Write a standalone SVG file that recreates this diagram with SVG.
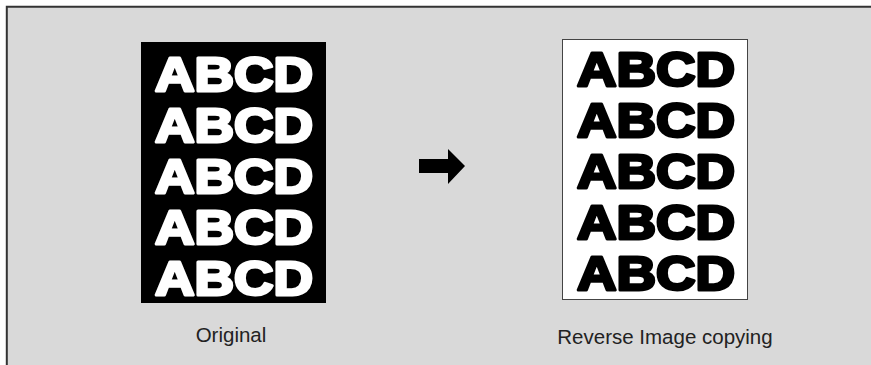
<svg xmlns="http://www.w3.org/2000/svg" width="871" height="365" viewBox="0 0 871 365">
<style>
.big{font-family:"Liberation Sans",Arial,sans-serif;font-weight:bold;font-size:48px;stroke-width:3;stroke-linejoin:round}
.w{fill:#fff;stroke:#fff}
.k{fill:#000;stroke:#000}
.lbl{font-family:"Liberation Sans",Arial,sans-serif;font-size:20.5px;fill:#222;text-anchor:middle}
</style>
<rect x="0" y="0" width="871" height="365" fill="#fff"/>
<rect x="7" y="7" width="864" height="358" fill="#d9d9d9"/>
<path d="M6.8,365 V6.8 H871" fill="none" stroke="#333" stroke-width="2"/>
<g id="original">
<rect x="141" y="42" width="185" height="261" fill="#000"/>
<text class="big w" x="155" y="90.5" textLength="158" lengthAdjust="spacingAndGlyphs">ABCD</text>
<text class="big w" x="155" y="141.5" textLength="158" lengthAdjust="spacingAndGlyphs">ABCD</text>
<text class="big w" x="155" y="192.5" textLength="158" lengthAdjust="spacingAndGlyphs">ABCD</text>
<text class="big w" x="155" y="243.5" textLength="158" lengthAdjust="spacingAndGlyphs">ABCD</text>
<text class="big w" x="155" y="294.5" textLength="158" lengthAdjust="spacingAndGlyphs">ABCD</text>
<text class="lbl" x="231" y="342">Original</text>
</g>
<g id="reverse">
<rect x="562.5" y="39.5" width="185" height="260" fill="#fff" stroke="#444" stroke-width="1"/>
<text class="big k" x="577" y="85.5" textLength="158" lengthAdjust="spacingAndGlyphs">ABCD</text>
<text class="big k" x="577" y="136.5" textLength="158" lengthAdjust="spacingAndGlyphs">ABCD</text>
<text class="big k" x="577" y="187.5" textLength="158" lengthAdjust="spacingAndGlyphs">ABCD</text>
<text class="big k" x="577" y="238.5" textLength="158" lengthAdjust="spacingAndGlyphs">ABCD</text>
<text class="big k" x="577" y="289.5" textLength="158" lengthAdjust="spacingAndGlyphs">ABCD</text>
<text class="lbl" x="665" y="344">Reverse Image copying</text>
</g>
<g id="connectors">
<path d="M419,159 H448 V149 L465,166 L448,184 V173 H419 Z" fill="#000"/>
</g>
</svg>
